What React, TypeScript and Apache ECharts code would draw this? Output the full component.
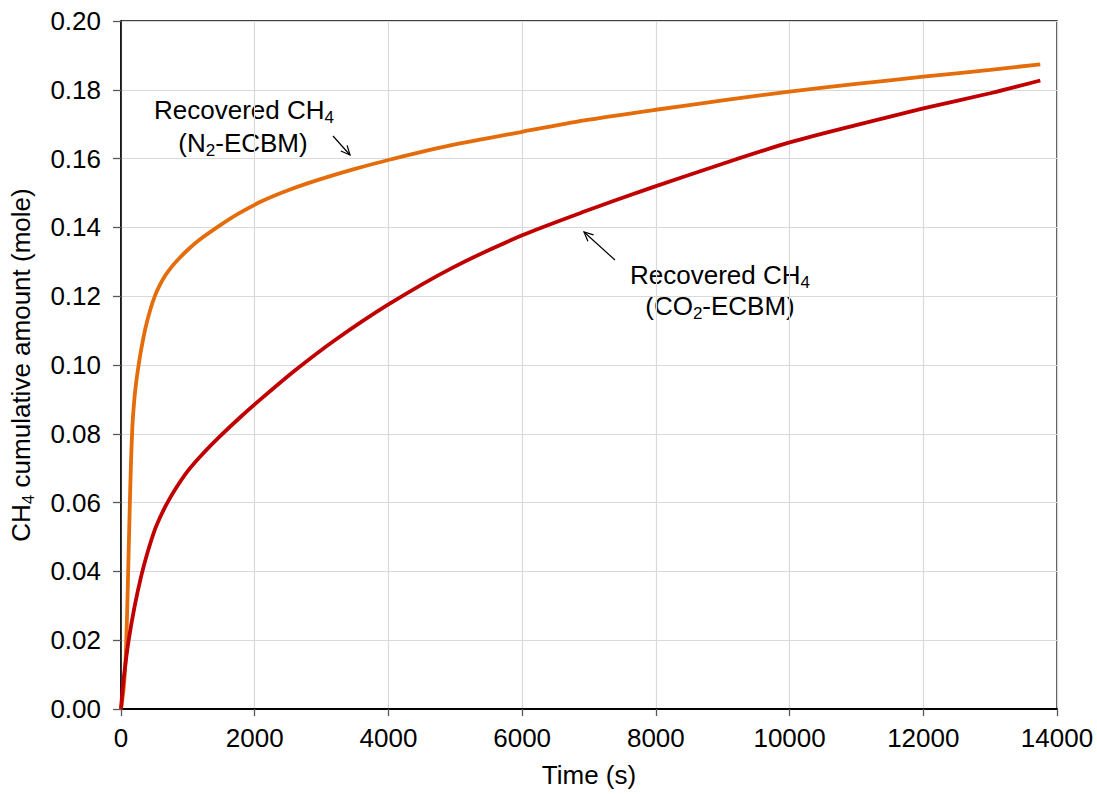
import React, { useEffect, useRef } from "react";
import * as echarts from "echarts";

const xTicks = { min: 0, max: 14000, interval: 2000 };
const yTicks = { min: 0, max: 0.2, interval: 0.02 };

const timeN2 = [0, 40, 70, 90, 110, 130, 150, 170, 195, 224, 264, 300, 363, 440, 512, 580, 662, 760, 861, 1000, 1160, 1458, 1756, 2104, 2500, 2950, 3500, 4000, 4940, 6000, 6930, 8000, 9000, 10000, 11000, 12000, 13000, 13750];
const valuesN2 = [0, 0.006, 0.015, 0.027, 0.042, 0.058, 0.072, 0.082, 0.089, 0.0945, 0.1, 0.1043, 0.1105, 0.1162, 0.1203, 0.1232, 0.126, 0.1286, 0.1308, 0.1335, 0.1362, 0.1403, 0.144, 0.1476, 0.1508, 0.1538, 0.157, 0.1596, 0.1639, 0.1678, 0.1711, 0.1742, 0.1769, 0.1795, 0.1817, 0.1838, 0.1858, 0.1874];

const timeCO2 = [0, 20, 50, 114, 200, 303, 400, 500, 580, 662, 800, 1000, 1200, 1483, 1800, 2104, 2601, 3198, 4000, 4940, 6000, 6930, 7925, 9000, 10000, 11010, 12000, 13000, 13750];
const valuesCO2 = [0, 0.0048, 0.0105, 0.0199, 0.0295, 0.0387, 0.0457, 0.0518, 0.0555, 0.0588, 0.0635, 0.0692, 0.0737, 0.0793, 0.0851, 0.0903, 0.0984, 0.1072, 0.1176, 0.1281, 0.1377, 0.1446, 0.1515, 0.1585, 0.1647, 0.1698, 0.1746, 0.179, 0.1827];

const seriesNames = ["Recovered CH4 (N2-ECBM)", "Recovered CH4 (CO2-ECBM)"];

const FONT = "'Liberation Sans', Arial, sans-serif";
const FS = 26;

const richStyles = {
  a: { fontSize: FS, fontFamily: FONT, color: "#000", lineHeight: 32 },
  s: { fontSize: 17, fontFamily: FONT, color: "#000", lineHeight: 16, verticalAlign: "bottom" },
};

function richText(x: number, y: number, text: string) {
  return {
    type: "text",
    x,
    y,
    style: {
      text,
      textAlign: "center",
      textVerticalAlign: "middle",
      rich: richStyles,
    },
  };
}

function arrow(x1: number, y1: number, x2: number, y2: number) {
  const dx = x2 - x1;
  const dy = y2 - y1;
  const len = Math.sqrt(dx * dx + dy * dy);
  const ux = -dx / len;
  const uy = -dy / len;
  const a = (25 * Math.PI) / 180;
  const L = 10;
  const w1 = [x2 + L * (ux * Math.cos(a) - uy * Math.sin(a)), y2 + L * (ux * Math.sin(a) + uy * Math.cos(a))];
  const w2 = [x2 + L * (ux * Math.cos(-a) - uy * Math.sin(-a)), y2 + L * (ux * Math.sin(-a) + uy * Math.cos(-a))];
  return [
    { type: "line", shape: { x1, y1, x2, y2 }, style: { stroke: "#000", lineWidth: 1.2 } },
    { type: "polyline", shape: { points: [w1, [x2, y2], w2] }, style: { stroke: "#000", lineWidth: 1.2, fill: null } },
  ];
}

export default function App() {
  const ref = useRef<HTMLDivElement>(null);
  useEffect(() => {
    document.body.style.margin = "0";
    if (!ref.current) return;
    const chart = echarts.init(ref.current, null, { renderer: "svg" });
    chart.setOption({
      animation: false,
      backgroundColor: "#fff",
      grid: {
        left: 119,
        right: 40,
        top: 21,
        bottom: 85,
        show: true,
        borderColor: "#000",
        borderWidth: 1.3,
        containLabel: false,
      },
      xAxis: {
        type: "value",
        min: xTicks.min,
        max: xTicks.max,
        interval: xTicks.interval,
        name: "Time (s)",
        nameLocation: "middle",
        nameGap: 53,
        nameTextStyle: { fontSize: FS, fontFamily: FONT, color: "#000" },
        axisLine: { show: true, lineStyle: { color: "#000", width: 2.2 } },
        axisTick: { show: true, inside: false, length: 7, lineStyle: { color: "#595959", width: 1.3 } },
        axisLabel: { fontSize: FS, fontFamily: FONT, color: "#000", margin: 16, formatter: (v: number) => String(v) },
        splitLine: { show: true, lineStyle: { color: "#d9d9d9", width: 1.2 } },
      },
      yAxis: {
        type: "value",
        min: yTicks.min,
        max: yTicks.max,
        interval: yTicks.interval,
        name: "{a|CH}{s|4}{a| cumulative amount (mole)}",
        nameLocation: "middle",
        nameGap: 84,
        nameTextStyle: { fontSize: FS, fontFamily: FONT, color: "#000", rich: richStyles },
        axisLine: { show: true, lineStyle: { color: "#000", width: 1.5 } },
        axisTick: { show: true, inside: false, length: 8, lineStyle: { color: "#595959", width: 1.3 } },
        axisLabel: {
          fontSize: FS,
          fontFamily: FONT,
          color: "#000",
          margin: 20,
          formatter: (v: number) => v.toFixed(2),
        },
        splitLine: { show: true, lineStyle: { color: "#d9d9d9", width: 1.2 } },
      },
      series: [
        {
          name: seriesNames[0],
          type: "line",
          data: timeN2.map((t, i) => [t, valuesN2[i]]),
          showSymbol: false,
          smooth: 0.25,
          lineStyle: { color: "#E46C0A", width: 3.8 },
          z: 3,
        },
        {
          name: seriesNames[1],
          type: "line",
          data: timeCO2.map((t, i) => [t, valuesCO2[i]]),
          showSymbol: false,
          smooth: 0.25,
          lineStyle: { color: "#C00000", width: 3.8 },
          z: 4,
        },
      ],
      graphic: [
        richText(244, 110, "{a|Recovered CH}{s|4}"),
        richText(243, 143, "{a|(N}{s|2}{a|-ECBM)}"),
        richText(720, 275, "{a|Recovered CH}{s|4}"),
        richText(720, 306, "{a|(CO}{s|2}{a|-ECBM)}"),
        ...arrow(333, 136, 350, 155),
        ...arrow(615, 260, 584, 232),
      ],
    });
    return () => chart.dispose();
  }, []);
  return <div ref={ref} style={{ width: 1097, height: 794 }} />;
}
